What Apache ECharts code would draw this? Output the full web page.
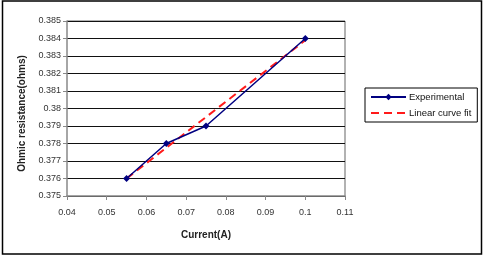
<!DOCTYPE html>
<html>
<head>
<meta charset="utf-8">
<script src="https://cdn.jsdelivr.net/npm/echarts@6/dist/echarts.min.js"></script>
<style>
  html, body { margin: 0; padding: 0; background: #fff; }
  #chart { width: 485px; height: 256px; }
</style>
</head>
<body>
<div id="chart"></div>
<script>
// measured points
const currentA = [0.055, 0.065, 0.075, 0.1];
const resistance = [0.376, 0.378, 0.379, 0.384];

// fitted line, ends
const fitCurrent = [0.055, 0.1];
const fitResistance = [0.376, 0.3839];

const font = 'Liberation Sans, Arial, sans-serif';

const chart = echarts.init(document.getElementById('chart'));
chart.setOption({
    animation: false,
    backgroundColor: '#fff',
    grid: { left: 67, right: 140, top: 21, bottom: 60, containLabel: false },
    xAxis: {
        type: 'value',
        min: 0.04, max: 0.11, interval: 0.01,
        name: 'Current(A)',
        nameLocation: 'middle',
        nameGap: 34,
        nameTextStyle: { fontFamily: font, fontSize: 10, fontWeight: 'bold', color: '#222' },
        axisLine: { lineStyle: { color: '#888', width: 1.5 } },
        axisTick: { show: true, length: 4, lineStyle: { color: '#888' } },
        axisLabel: { fontFamily: font, fontSize: 9, color: '#333', margin: 12 },
        splitLine: { show: false }
    },
    yAxis: {
        type: 'value',
        min: 0.375, max: 0.385, interval: 0.001,
        name: 'Ohmic resistance(ohms)',
        nameLocation: 'middle',
        nameGap: 39,
        nameTextStyle: { fontFamily: font, fontSize: 10, fontWeight: 'bold', color: '#222', padding: [0, 0, 0, -10] },
        axisLine: { show: true, lineStyle: { color: '#888', width: 1.5 } },
        axisTick: { show: true, length: 4, lineStyle: { color: '#888' } },
        axisLabel: { fontFamily: font, fontSize: 9, color: '#333', margin: 6 },
        splitLine: { show: true, lineStyle: { color: '#111', width: 1 } }
    },
    legend: {
        orient: 'vertical',
        left: 365, top: 88,
        padding: [4, 6, 4, 5],
        itemGap: 6,
        itemWidth: 35,
        itemHeight: 8,
        borderColor: '#000',
        borderWidth: 1,
        textStyle: { fontFamily: font, fontSize: 9.5, color: '#111', padding: [0, 0, 0, -2] },
        data: ['Experimental', { name: 'Linear curve fit', itemStyle: { opacity: 0 } }]
    },
    graphic: [{
        type: 'rect',
        shape: { x: 2.5, y: 1, width: 479, height: 253 },
        style: { fill: 'none', stroke: '#000', lineWidth: 1.5 },
        silent: true
    }, {
        type: 'line',
        shape: { x1: 67, y1: 21, x2: 345, y2: 21 },
        style: { stroke: '#999', lineWidth: 1.5 },
        silent: true
    }, {
        type: 'line',
        shape: { x1: 345, y1: 21, x2: 345, y2: 196 },
        style: { stroke: '#999', lineWidth: 1.5 },
        silent: true
    }],
    series: [{
        name: 'Linear curve fit',
        type: 'line',
        data: fitCurrent.map((x, i) => [x, fitResistance[i]]),
        symbol: 'none',
        lineStyle: { color: '#ff1a1a', width: 2, type: [8, 5] },
        itemStyle: { color: '#ff1a1a' },
        z: 3
    }, {
        name: 'Experimental',
        type: 'line',
        data: currentA.map((x, i) => [x, resistance[i]]),
        symbol: 'diamond',
        symbolSize: 7,
        lineStyle: { color: '#000080', width: 1.5 },
        itemStyle: { color: '#000080' },
        z: 4
    }]
});
</script>
</body>
</html>
